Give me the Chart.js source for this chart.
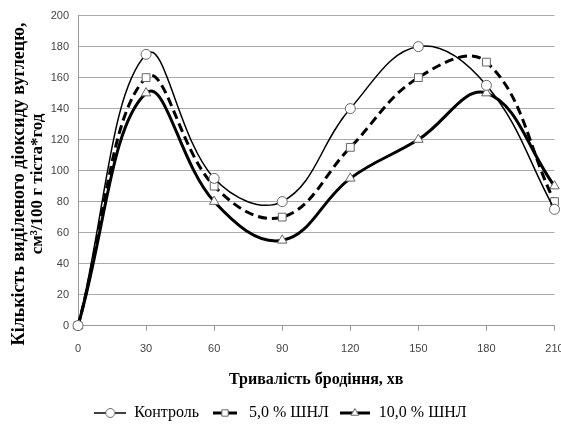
<!DOCTYPE html>
<html>
<head>
<meta charset="utf-8">
<script src="https://cdn.jsdelivr.net/npm/chart.js@4.4.0/dist/chart.umd.min.js"></script>
<style>
  html, body { margin: 0; padding: 0; background: #fff; overflow: hidden; }
  #wrap { width: 561px; height: 431px; position: relative; }
</style>
</head>
<body>
<div id="wrap"><canvas id="myChart"></canvas></div>
<script>
// fermentation time, min
const minutes = [0, 30, 60, 90, 120, 150, 180, 210];
const kontrol = [0, 175, 95, 80, 140, 180, 155, 75];
const shnl5 = [0, 160, 90, 70, 115, 160, 170, 80];
const shnl10 = [0, 150, 80, 55, 95, 120, 150, 90];
const seriesNames = ['Контроль', '5,0 % ШНЛ', '10,0 % ШНЛ'];
const yTitle = ['Кількість виділеного діоксиду вуглецю,', 'см³/100 г тіста*год'];
const xTitle = 'Тривалість бродіння, хв';

const serif = "'Liberation Serif', 'Times New Roman', serif";
const tickFont = { family: "'Liberation Sans', Arial, sans-serif", size: 11 };

function makeSet(label, values, style, width, dash, radius) {
  return {
    label: label,
    data: minutes.map((m, i) => ({ x: m, y: values[i] })),
    borderColor: '#000',
    borderWidth: width,
    borderDash: dash,
    tension: 0.4,
    pointStyle: style,
    pointRadius: radius,
    pointHoverRadius: radius,
    pointBackgroundColor: '#fff',
    pointBorderColor: '#666',
    pointBorderWidth: 1,
    clip: false
  };
}

const sets = [
  makeSet(seriesNames[0], kontrol, 'circle', 1.5, [], 5),
  makeSet(seriesNames[1], shnl5, 'rect', 3, [9, 5], 5.5),
  makeSet(seriesNames[2], shnl10, 'triangle', 3, [], 5.5)
];

// little line+marker pictures for the legend
function legendIcon(ds, w) {
  const c = document.createElement('canvas');
  c.width = w; c.height = 14;
  const g = c.getContext('2d');
  g.strokeStyle = '#000';
  g.lineWidth = ds.borderWidth;
  g.beginPath(); g.moveTo(0, 7); g.lineTo(w, 7); g.stroke();
  g.fillStyle = '#fff';
  g.strokeStyle = '#666';
  g.lineWidth = 1;
  Chart.helpers.drawPoint(g, { pointStyle: ds.pointStyle, radius: 4.5, borderWidth: 1, rotation: 0 }, w / 2, 7);
  return c;
}
const icons = [legendIcon(sets[0], 32), legendIcon(sets[1], 24), legendIcon(sets[2], 30)];

const yTitlePlugin = {
  id: 'yTitle',
  afterDraw(chart) {
    const ctx = chart.ctx;
    ctx.save();
    ctx.translate(0, 184);
    ctx.rotate(-Math.PI / 2);
    ctx.font = 'bold 18px ' + serif;
    ctx.fillStyle = '#000';
    ctx.textAlign = 'center';
    ctx.textBaseline = 'middle';
    ctx.fillText(yTitle[0], 0, 19);
    ctx.font = 'bold 17px ' + serif;
    ctx.fillText(yTitle[1], 0, 38);
    ctx.restore();
  }
};

const ctx = document.getElementById('myChart');
const myChart = new Chart(ctx, {
  type: 'line',
  data: { datasets: sets },
  plugins: [yTitlePlugin],
  options: {
    responsive: true,
    maintainAspectRatio: false,
    animation: false,
    layout: { padding: { top: 13, left: 0, right: 0, bottom: 0 } },
    plugins: {
      tooltip: { enabled: false },
      legend: {
        position: 'bottom',
        labels: {
          usePointStyle: true,
          pointStyleWidth: 32,
          padding: 10,
          color: '#000',
          font: { family: serif, size: 16 },
          generateLabels(chart) {
            const items = Chart.defaults.plugins.legend.labels.generateLabels(chart);
            items.forEach((it, i) => { it.pointStyle = icons[i]; });
            return items;
          }
        }
      }
    },
    scales: {
      x: {
        type: 'linear',
        min: 0,
        max: 210,
        ticks: { stepSize: 30, color: '#444', font: tickFont, padding: 12 },
        grid: { drawOnChartArea: false, color: '#999', tickLength: 5 },
        border: { color: '#999' },
        title: {
          display: true,
          text: xTitle,
          color: '#000',
          font: { family: serif, size: 16, weight: 'bold' },
          padding: { top: 2, bottom: 6 }
        },
        afterFit(scale) { scale.paddingRight = 4; }
      },
      y: {
        min: 0,
        max: 200,
        ticks: { stepSize: 20, color: '#444', font: tickFont, padding: 9 },
        grid: { color: '#aaa', drawTicks: false },
        border: { color: '#999' },
        afterFit(scale) { scale.width = 78; }
      }
    }
  }
});
</script>
</body>
</html>
